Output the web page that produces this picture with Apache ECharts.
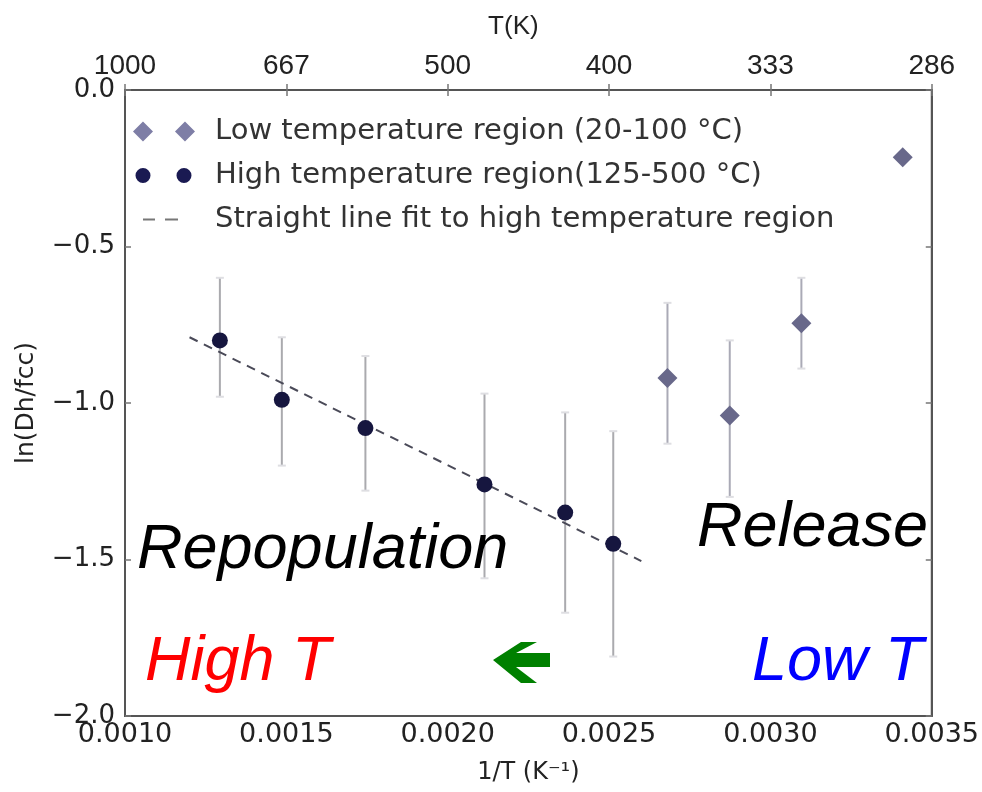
<!DOCTYPE html>
<html><head><meta charset="utf-8">
<script src="https://cdn.jsdelivr.net/npm/echarts@6/dist/echarts.min.js"></script>
<style>html,body{margin:0;padding:0;background:#fff}#c{width:982px;height:792px}</style>
</head><body><div id="c"></div>
<script>
// ---- data ----
const xTicks = [0.0010, 0.0015, 0.0020, 0.0025, 0.0030, 0.0035];
const topTickLabels = ['1000', '667', '500', '400', '333', '286'];
const yTicks = [0.0, -0.5, -1.0, -1.5, -2.0];
const highX = [0.001294, 0.001486, 0.001745, 0.002114, 0.002364, 0.002513];
const highY = [-0.80, -0.99, -1.08, -1.26, -1.35, -1.45];
const highLo = [-0.98, -1.20, -1.28, -1.56, -1.67, -1.81];
const highHi = [-0.60, -0.79, -0.85, -0.97, -1.03, -1.09];
const lowX = [0.002681, 0.002874, 0.003096, 0.003410];
const lowY = [-0.92, -1.04, -0.745, -0.215];
const lowLo = [-1.13, -1.30, -0.89, -0.23];
const lowHi = [-0.68, -0.80, -0.60, -0.20];
const fitX = [0.00120, 0.00260];
const fitY = [-0.79, -1.505];
const names = ['Low temperature region (20-100 \u00B0C)', 'High temperature region(125-500 \u00B0C)', 'Straight line fit to high temperature region'];

const chart = echarts.init(document.getElementById('c'));
const fmtX = v => v.toFixed(4);
const fmtY = v => (Math.abs(v) < 1e-9 ? '0.0' : v.toFixed(1).replace('-', '\u2212'));
const topLabel = v => { const i = xTicks.findIndex(t => Math.abs(t - v) < 1e-9); return i >= 0 ? topTickLabels[i] : ''; };

function errItem(color) {
  return function (params, api) {
    const x = api.value(0);
    const a = api.coord([x, api.value(1)]);
    const b = api.coord([x, api.value(2)]);
    return {
      type: 'group', children: [
        { type: 'line', shape: { x1: a[0], y1: a[1], x2: b[0], y2: b[1] }, style: { stroke: color, lineWidth: 2 } },
        { type: 'line', shape: { x1: a[0] - 4, y1: a[1], x2: a[0] + 4, y2: a[1] }, style: { stroke: '#dedee2', lineWidth: 2 } },
        { type: 'line', shape: { x1: b[0] - 4, y1: b[1], x2: b[0] + 4, y2: b[1] }, style: { stroke: '#dedee2', lineWidth: 2 } }
      ]
    };
  };
}

const axisLine = { show: true, lineStyle: { color: '#555', width: 2 } };
const tick = { show: true, inside: true, length: 6, lineStyle: { color: '#777', width: 1.5 } };
const bounds = 'M0,0L0.01,0L0,0Z M62,20L62.01,20L62,20Z ';

chart.setOption({
  backgroundColor: '#fff',
  animation: false,
  grid: { left: 125, right: 46, top: 90, bottom: 76, show: true, borderColor: '#555', borderWidth: 2 },
  xAxis: [
    { type: 'value', position: 'bottom', min: 0.001, max: 0.0035, interval: 0.0005,
      axisLine: axisLine, axisTick: tick, splitLine: { show: false },
      axisLabel: { formatter: fmtX, fontFamily: 'DejaVu Sans', fontSize: 27, color: '#222', margin: 5 },
      name: '1/T (K\u207B\u00B9)', nameLocation: 'middle', nameGap: 45,
      nameTextStyle: { fontFamily: 'DejaVu Sans', fontSize: 24, color: '#222' } },
    { type: 'value', position: 'top', min: 0.001, max: 0.0035, interval: 0.0005,
      axisLine: axisLine, axisTick: tick, splitLine: { show: false },
      axisLabel: { formatter: topLabel, fontFamily: 'Liberation Sans', fontSize: 28, color: '#222', margin: 10 },
      name: 'T(K)', nameLocation: 'middle', nameGap: 50,
      nameTextStyle: { fontFamily: 'Liberation Sans', fontSize: 26, color: '#222', padding: [0, 30, 0, 0] } },
  ],
  yAxis: [
    { type: 'value', position: 'left', min: -2, max: 0, interval: 0.5,
      axisLine: axisLine, axisTick: tick, splitLine: { show: false },
      axisLabel: { formatter: fmtY, fontFamily: 'DejaVu Sans', fontSize: 26, color: '#222', margin: 10 },
      name: 'ln(Dh/fcc)', nameLocation: 'middle', nameGap: 86,
      nameTextStyle: { fontFamily: 'DejaVu Sans', fontSize: 25, color: '#222' } },
    { type: 'value', position: 'right', min: -2, max: 0, interval: 0.5,
      axisLine: axisLine, axisTick: tick, splitLine: { show: false }, axisLabel: { show: false } }
  ],
  legend: {
    orient: 'vertical', left: 128, top: 112, itemGap: 15, itemWidth: 62, itemHeight: 20,
    textStyle: { fontFamily: 'DejaVu Sans', fontSize: 29, color: '#333', padding: [0, 0, 0, 15] },
    data: [
      { name: names[0], icon: 'path://' + bounds + 'M0,10L10,0L20,10L10,20Z M42,10L52,0L62,10L52,20Z', itemStyle: { color: '#7e7ea6' } },
      { name: names[1], icon: 'path://' + bounds + 'M2.5,10a7.5,7.5 0 1,0 15,0a7.5,7.5 0 1,0 -15,0Z M43.5,10a7.5,7.5 0 1,0 15,0a7.5,7.5 0 1,0 -15,0Z', itemStyle: { color: '#1a1a52' } },
      { name: names[2], icon: 'path://' + bounds + 'M10,9L22,9L22,11L10,11Z M32,9L45,9L45,11L32,11Z', itemStyle: { color: '#777' } }
    ]
  },
  series: [
    { name: 'errHigh', type: 'custom', renderItem: errItem('#aaaaae'), z: 1,
      data: highX.map((x, i) => [x, highLo[i], highHi[i]]) },
    { name: 'errLow', type: 'custom', renderItem: errItem('#aaaab6'), z: 1,
      data: lowX.map((x, i) => [x, lowLo[i], lowHi[i]]) },
    { name: names[2], type: 'line', data: fitX.map((x, i) => [x, fitY[i]]), symbol: 'none', z: 2,
      lineStyle: { color: '#4a4a58', width: 2, type: [9, 7] }, itemStyle: { color: '#555' } },
    { name: names[0], type: 'scatter', symbol: 'diamond', symbolSize: 20, z: 3,
      itemStyle: { color: '#68688a', opacity: 1 }, data: lowX.map((x, i) => [x, lowY[i]]) },
    { name: names[1], type: 'scatter', symbol: 'circle', symbolSize: 16, z: 3,
      itemStyle: { color: '#16163f', opacity: 1 }, data: highX.map((x, i) => [x, highY[i]]) }
  ],
  graphic: [
    { type: 'text', x: 137, y: 550, z: 10, style: { text: 'Repopulation', font: 'italic 63px "Liberation Sans"', fill: '#000', verticalAlign: 'middle' } },
    { type: 'text', x: 697, y: 528, z: 10, style: { text: 'Release', font: 'italic 63px "Liberation Sans"', fill: '#000', verticalAlign: 'middle' } },
    { type: 'text', x: 145, y: 662, z: 10, style: { text: 'High T', font: 'italic 63px "Liberation Sans"', fill: '#ff0000', verticalAlign: 'middle' } },
    { type: 'text', x: 752, y: 662, z: 10, style: { text: 'Low T', font: 'italic 63px "Liberation Sans"', fill: '#0000ff', verticalAlign: 'middle' } },
    { type: 'polygon', z: 10, shape: { points: [[493, 660], [521, 642], [537, 642], [516, 653], [550, 653], [550, 667], [516, 667], [537, 683], [521, 683]] }, style: { fill: '#008000' } }
  ]
});
</script>
</body></html>
